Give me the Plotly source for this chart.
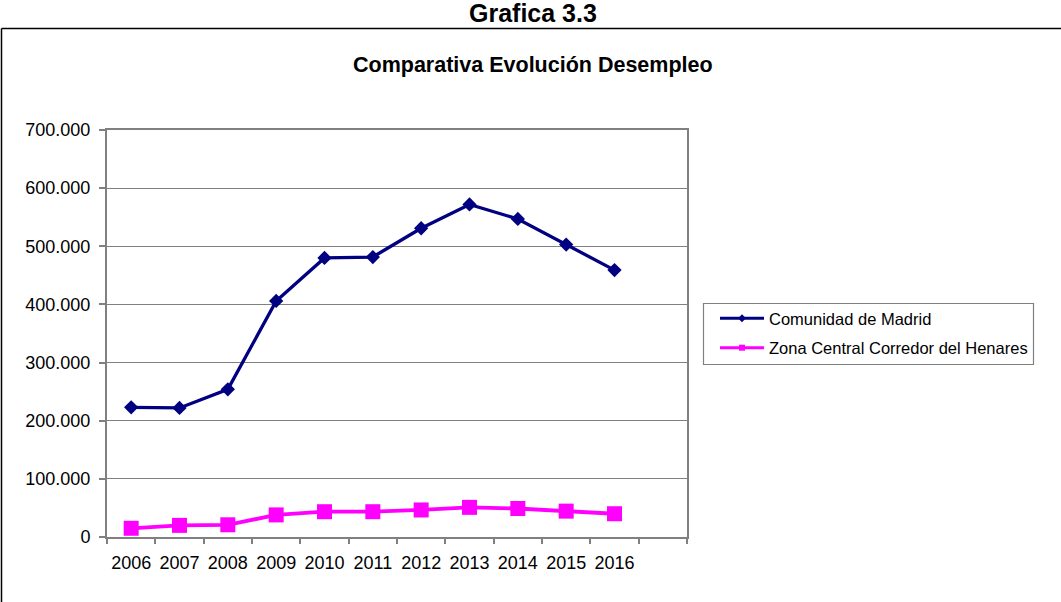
import plotly.graph_objects as go

years = ["2006", "2007", "2008", "2009", "2010", "2011", "2012", "2013", "2014", "2015", "2016"]
madrid = [223000, 222000, 254000, 406000, 480000, 481500, 531000, 572000, 547000, 503000, 459000]
henares = [15000, 20000, 21000, 38000, 43500, 43500, 46500, 51000, 49000, 44500, 40000]
series_names = ["Comunidad de Madrid", "Zona Central Corredor del Henares"]
y_ticks = [0, 100000, 200000, 300000, 400000, 500000, 600000, 700000]

NAVY = "#000080"
MAGENTA = "#FF00FF"
GRAY = "#808080"
FONT = "Liberation Sans, Arial, sans-serif"

W, H = 1061, 602
L, R, T, B = 107, 687, 130, 537  # plot area pixel bounds


def px(x):
    return (x - L) / (R - L)


def py(y):
    return (B - y) / (B - T)


idx = list(range(len(years)))

fig = go.Figure()

# data traces
fig.add_trace(go.Scatter(
    x=idx, y=madrid, mode="lines+markers", name=series_names[0],
    legendgroup="g1", showlegend=False,
    line=dict(color=NAVY, width=3.3),
    marker=dict(symbol="diamond", size=11, color=NAVY),
))
fig.add_trace(go.Scatter(
    x=idx, y=henares, mode="lines+markers", name=series_names[1],
    legendgroup="g2", showlegend=False,
    line=dict(color=MAGENTA, width=3.8),
    marker=dict(symbol="square", size=15, color=MAGENTA),
))
# legend entries (small markers as in the original legend)
fig.add_trace(go.Scatter(
    x=[None], y=[None], mode="lines+markers", name=series_names[0],
    legendgroup="g1", line=dict(color=NAVY, width=3),
    marker=dict(symbol="diamond", size=6, color=NAVY),
))
fig.add_trace(go.Scatter(
    x=[None], y=[None], mode="lines+markers", name=series_names[1],
    legendgroup="g2", line=dict(color=MAGENTA, width=3),
    marker=dict(symbol="square", size=6, color=MAGENTA),
))

fig.update_layout(
    width=W, height=H,
    margin=dict(l=L, r=W - R, t=T, b=H - B, pad=0),
    paper_bgcolor="white", plot_bgcolor="white",
    separators=",.",
    font=dict(family=FONT, color="black", size=18),
    showlegend=True,
    legend=dict(
        x=px(715), y=py(301), xanchor="left", yanchor="top",
        borderwidth=0, bgcolor="rgba(0,0,0,0)",
        font=dict(size=16.5, family=FONT, color="black"),
        itemwidth=44, traceorder="grouped", tracegroupgap=5,
    ),
    xaxis=dict(
        range=[-0.5, 11.5], tickmode="array", tickvals=idx, ticktext=years,
        ticks="", showgrid=False, zeroline=False,
        showline=True, linecolor=GRAY, linewidth=2, mirror=True,
        tickfont=dict(size=18), ticklabelstandoff=8,
        minor=dict(ticks="outside", tickmode="linear", tick0=-0.5, dtick=1,
                   ticklen=5, tickwidth=1.5, tickcolor=GRAY, showgrid=False),
        fixedrange=True,
    ),
    yaxis=dict(
        range=[0, 700000], tickmode="array", tickvals=y_ticks,
        tickformat=",.0f", ticks="outside", ticklen=6, tickwidth=1.5, tickcolor=GRAY,
        showgrid=True, gridcolor=GRAY, gridwidth=1.2, zeroline=False,
        showline=True, linecolor=GRAY, linewidth=2, mirror=True,
        tickfont=dict(size=18), ticklabelstandoff=5,
        fixedrange=True,
    ),
    annotations=[
        dict(text="<b>Grafica 3.3</b>", xref="paper", yref="paper",
             x=px(533), y=py(13), xanchor="center", yanchor="middle",
             showarrow=False, font=dict(size=25, family=FONT, color="black")),
        dict(text="<b>Comparativa Evolución Desempleo</b>", xref="paper", yref="paper",
             x=px(533), y=py(65), xanchor="center", yanchor="middle",
             showarrow=False, font=dict(size=21.5, family=FONT, color="black")),
    ],
    shapes=[
        dict(type="line", xref="paper", yref="paper",
             x0=px(1.5), x1=px(W + 5), y0=py(28.5), y1=py(28.5),
             line=dict(color="black", width=1.5)),
        dict(type="line", xref="paper", yref="paper",
             x0=px(1.5), x1=px(1.5), y0=py(28.5), y1=py(H + 5),
             line=dict(color="black", width=1.5)),
        dict(type="rect", xref="paper", yref="paper",
             x0=px(703.5), x1=px(1033.5), y0=py(303.5), y1=py(364.5),
             line=dict(color=GRAY, width=1.2), fillcolor="rgba(0,0,0,0)"),
    ],
)

fig.write_html("out.html", config={"displayModeBar": False},
               post_script="document.body.style.margin='0';document.body.style.overflow='hidden';")
